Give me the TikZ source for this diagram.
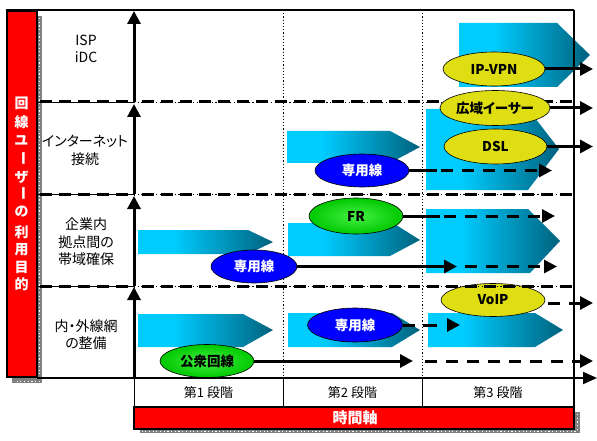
\documentclass[tikz,border=0pt]{standalone}
\usepackage{fontspec}
\setmainfont{Noto Sans CJK JP}[RawFeature=+palt]
\usetikzlibrary{shapes.geometric,arrows.meta}
\definecolor{rbar}{RGB}{255,0,0}
\definecolor{blu}{RGB}{0,0,255}
\definecolor{yel}{RGB}{222,222,18}
\definecolor{grnO}{RGB}{0,200,0}
\definecolor{grnI}{RGB}{70,240,70}
\definecolor{cyA}{RGB}{0,204,255}
\definecolor{tlB}{RGB}{0,98,125}
\definecolor{shad}{RGB}{128,128,128}
\pgfdeclarehorizontalshading{chev}{100bp}{color(0bp)=(cyA); color(38bp)=(cyA); color(75bp)=(tlB); color(100bp)=(tlB)}
\tikzset{
  lbl/.style={font=\fontsize{14pt}{17.5pt}\selectfont, align=center, inner sep=0pt},
  stg/.style={font=\fontsize{13pt}{13pt}\selectfont, inner sep=0pt},
  ell/.style={ellipse, draw=black, line width=0.6pt, inner sep=0pt, font=\bfseries\fontsize{13.5pt}{13.5pt}\selectfont},
  yelE/.style={ell, fill=yel},
  bluE/.style={ell, fill=blu, text=white},
  grnE/.style={ell, inner color=grnI, outer color=grnO},
  tip/.style={-{Triangle[length=13pt,width=13pt]}},
  harr/.style={line width=3pt, tip},
  hdash/.style={line width=3pt, tip, dash pattern=on 12pt off 9pt},
  hsolid/.style={line width=3pt},
  varr/.style={line width=3pt, tip},
  dotv/.style={line width=0.8pt, dash pattern=on 1.2pt off 2pt},
  thickdash/.style={line width=3pt, dash pattern=on 12pt off 7pt},
  thindot/.style={line width=0.8pt, dash pattern=on 1.2pt off 2.5pt},
  chevS/.style={shading=chev},
  rbtxt/.style={text=white, font=\bfseries\fontsize{14pt}{14pt}\selectfont, inner sep=0pt},
}
\begin{document}
\begin{tikzpicture}[x=1pt,y=-1pt]
\useasboundingbox (0,0) rectangle (597,441);
\fill[white] (0,0) rectangle (597,441);

% shadows
\fill[shad] (37,16) rectangle (42,383);
\fill[shad] (12,377) rectangle (42,383);
\draw[white, thindot] (39.5,18) -- (39.5,381) -- (14,381);
\fill[shad] (574,412) rectangle (580,433);
\fill[shad] (140,429) rectangle (580,433);
\draw[white, thindot] (577,414) -- (577,431) -- (142,431);

% chevrons
\shade[chevS] (459,23) -- (557,23) -- (590,55) -- (557,87) -- (459,87) -- cycle;
\shade[chevS] (426,109) -- (528,109) -- (559,149) -- (528,190) -- (426,190) -- cycle;
\shade[chevS] (287,131) -- (390,131) -- (420,147) -- (390,163) -- (287,163) -- cycle;
\shade[chevS] (426,209) -- (528,209) -- (560,241) -- (530,273) -- (426,273) -- cycle;
\shade[chevS] (288,223) -- (393,223) -- (420,240) -- (390,256) -- (288,256) -- cycle;
\shade[chevS] (138,230) -- (248,230) -- (273,242) -- (248,254) -- (138,254) -- cycle;
\shade[chevS] (138,314) -- (243,314) -- (273,330) -- (243,347) -- (138,347) -- cycle;
\shade[chevS] (288,313) -- (392,313) -- (420,330) -- (392,347) -- (288,347) -- cycle;
\shade[chevS] (428,313) -- (535,313) -- (563,330) -- (535,347) -- (428,347) -- cycle;

% VoIP ellipse (under row line)
\node[yelE, minimum width=104pt, minimum height=33pt] (voip) at (493,300) {VoIP};

% vertical dotted stage lines
\draw[dotv] (283,10) -- (283,378);
\draw[dotv] (422,10) -- (422,378);

% row dividers
\foreach \yy in {102,194,286} {
  \draw[line width=0.8pt] (37,\yy) -- (134,\yy);
  \draw[thickdash] (40,\yy) -- (134,\yy);
  \draw[thindot] (134,\yy) -- (574,\yy);
  \draw[thickdash, dash phase=-8pt] (134,\yy) -- (574,\yy);
}

% frame
\draw[line width=1.5pt] (6,10) -- (574,10);
\draw[line width=2pt] (574,10) -- (574,407);

% red vertical bar
\draw[fill=rbar, line width=2pt] (7,11) rectangle (36.5,377);
\foreach \c/\yy/\r [count=\i] in {回/103/0, 線/122/0, ユ/140/0, ー/158/-90, ザ/177/0, ー/193/-90, の/212/0, 利/232/0, 用/250/0, 目/267/0, 的/284/0}
  \node[rbtxt, rotate=\r] (rb\i) at (21.5,\yy) {\c};

% row labels
\node[lbl] (l1) at (86,49) {ISP\\iDC};
\node[lbl] (l2) at (85,150.5) {インターネット\\接続};
\node[lbl] (l3) at (86,242) {企業内\\拠点間の\\帯域確保};
\node[lbl] (l4) at (86,334.5) {内・外線網\\の整備};

% ellipses
\node[yelE, minimum width=102pt, minimum height=34pt] (ipvpn) at (494,69) {IP-VPN};
\node[yelE, minimum width=104pt, minimum height=35pt] (koiki) at (495,108) {広域イーサー};
\node[yelE, minimum width=103pt, minimum height=35pt] (dsl) at (495.5,146.5) {DSL};
\node[bluE, minimum width=94pt, minimum height=33pt] (sen2) at (362,170.5) {専用線};
\node[grnE, minimum width=94pt, minimum height=36pt] (fr) at (356,216) {FR};
\node[bluE, minimum width=86pt, minimum height=33pt] (sen3) at (254,266.5) {専用線};
\node[bluE, minimum width=95pt, minimum height=34pt] (sen4) at (355,325) {専用線};
\node[grnE, minimum width=94pt, minimum height=33pt] (koshu) at (207,361) {公衆回線};

% coordinates
\coordinate (e1) at (593,69);
\coordinate (e2) at (593,108);
\coordinate (e3) at (593,146.5);
\coordinate (s2a) at (437,170.5);
\coordinate (s2b) at (552,170.5);
\coordinate (fra) at (440,216);
\coordinate (frb) at (555,216);
\coordinate (s3a) at (457,266.5);
\coordinate (s3b) at (465,266.5);
\coordinate (s3c) at (557,266.5);
\coordinate (s4a) at (460,325);
\coordinate (kea) at (413,361);
\coordinate (keb) at (421,361);
\coordinate (kec) at (593,361);
\coordinate (vpa) at (548,303);
\coordinate (vpb) at (593,303);

% connectors
\draw[harr] (ipvpn.east) -- (e1);
\draw[harr] (koiki.east) -- (e2);
\draw[harr] (dsl.east) -- (e3);
\draw[hsolid] (sen2.east) -- (s2a);
\draw[hdash, dash phase=-4pt] (s2a) -- (s2b);
\draw[hsolid] (fr.east) -- (fra);
\draw[hdash, dash phase=-4pt] (fra) -- (frb);
\draw[harr] (sen3.east) -- (s3a);
\draw[hdash] (s3b) -- (s3c);
\draw[hdash, dash pattern=on 12pt off 8pt on 14pt off 10pt] (sen4.east) -- (s4a);
\draw[harr] (koshu.east) -- (kea);
\draw[hdash, dash phase=-4pt] (keb) -- (kec);
\draw[hdash] (vpa) -- (vpb);

% vertical axis
\coordinate (v0) at (134,378);
\coordinate (v1) at (134,287);
\coordinate (v1b) at (134,286);
\coordinate (v2) at (134,196);
\coordinate (v2b) at (134,194);
\coordinate (v3) at (134,104);
\coordinate (v3b) at (134,102);
\coordinate (v4) at (134,11);
\draw[varr] (v0) -- (v1);
\draw[varr] (v1b) -- (v2);
\draw[varr] (v2b) -- (v3);
\draw[varr] (v3b) -- (v4);

% horizontal axis
\coordinate (h0) at (37,378);
\coordinate (h1) at (597,378);
\draw[line width=1.6pt] (h0) -- (v0);
\draw[line width=2pt, -{Triangle[length=14pt,width=12pt]}] (v0) -- (h1);

% stage boxes
\draw[line width=0.8pt] (134,378) -- (134,407);
\draw[line width=0.8pt] (283,378) -- (283,407);
\draw[line width=0.8pt] (422,378) -- (422,407);
\node[stg] (st1) at (208.5,392.5) {第1 段階};
\node[stg] (st2) at (352.5,392.5) {第2 段階};
\node[stg] (st3) at (498,392.5) {第3 段階};

% time axis bar
\draw[fill=rbar, line width=1.8pt] (134,407) rectangle (574,429);
\node[text=white, font=\bfseries\fontsize{15pt}{15pt}\selectfont, inner sep=0pt] (tlabel) at (355,418) {時間軸};
\end{tikzpicture}
\end{document}
